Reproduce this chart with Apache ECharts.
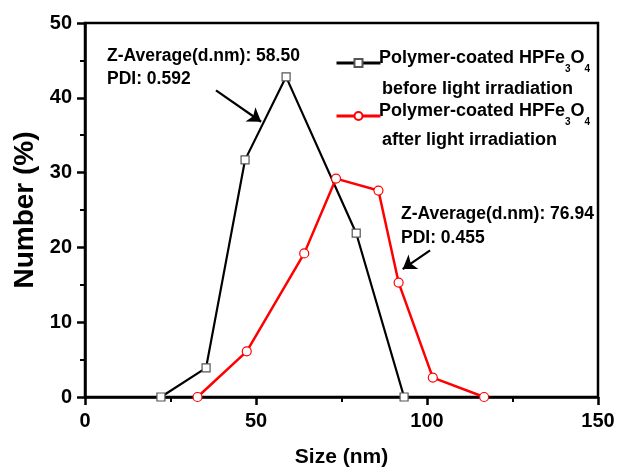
<!DOCTYPE html>
<html>
<head>
<meta charset="utf-8">
<script src="https://cdn.jsdelivr.net/npm/echarts@6/dist/echarts.min.js"></script>
<style>
    html, body { margin: 0; padding: 0; background: #fff; }
    #chart { width: 618px; height: 473px; }
</style>
</head>
<body>
<div id="chart"></div>
<script>
    // size (nm) / number (%)
    const beforeX = [22.2, 35.4, 46.8, 58.8, 79.3, 93.3];
    const beforeY = [0, 3.9, 31.7, 42.8, 21.9, 0];
    const afterX = [32.9, 47.3, 64.1, 73.4, 85.8, 91.7, 101.7, 116.7];
    const afterY = [0, 6.1, 19.2, 29.2, 27.6, 15.3, 2.6, 0];

    const xTicks = [0, 50, 100, 150];
    const yTicks = [0, 10, 20, 30, 40, 50];

    const seriesNames = ['before', 'after'];
    // formula pieces: [text, isSubscript]
    const formula = [['Polymer-coated HPFe', false], ['3', true], ['O', false], ['4', true]];
    const legendLine2 = ['before light irradiation', 'after light irradiation'];
    const noteBefore = ['Z-Average(d.nm): 58.50', 'PDI: 0.592'];
    const noteAfter = ['Z-Average(d.nm): 76.94', 'PDI: 0.455'];
    // arrow tail -> head, in data units
    const arrowBefore = [[38.3, 41.0], [51.5, 36.8]];
    const arrowAfter = [[100.9, 19.6], [92.9, 17.1]];

    const FONT = '"Liberation Sans", Arial, sans-serif';
    const LEG_SIZE = 18;
    const SUB_SIZE = 10;

    function pairs(xs, ys) {
        return xs.map((x, i) => [x, ys[i]]);
    }

    const measureCtx = document.createElement('canvas').getContext('2d');
    function textWidth(str, size) {
        measureCtx.font = 'bold ' + size + 'px ' + FONT;
        return measureCtx.measureText(str).width;
    }

    // legend label with subscripts, drawn as separate text pieces
    function formulaText(x, y) {
        let out = [];
        let cx = x;
        formula.forEach(function (p) {
            let size = p[1] ? SUB_SIZE : LEG_SIZE;
            out.push({
                type: 'text', x: cx, y: p[1] ? y + 11 : y,
                style: {text: p[0], fontSize: size, fontWeight: 'bold', fontFamily: FONT, fill: '#000', textVerticalAlign: 'middle'}
            });
            cx += textWidth(p[0], size);
        });
        return out;
    }

    function plainText(x, y, str, size, lh) {
        return {type: 'text', x: x, y: y, style: {text: str, fontSize: size, fontWeight: 'bold', fontFamily: FONT, fill: '#000', lineHeight: lh}};
    }

    function arrowLine(pts) {
        return {
            silent: true,
            symbol: ['none', 'arrow'],
            symbolSize: 13,
            label: {show: false},
            lineStyle: {color: '#000', width: 2.2, type: 'solid'},
            emphasis: {disabled: true},
            data: [[{coord: pts[0]}, {coord: pts[1]}]]
        };
    }

    const axisText = {color: '#000', fontWeight: 'bold', fontSize: 20, fontFamily: FONT};

    const option = {
        animation: false,
        backgroundColor: '#fff',
        grid: {
            left: 85, right: 20, top: 23, bottom: 73,
            show: true,
            borderColor: '#000',
            borderWidth: 2.5
        },
        legend: {
            orient: 'vertical',
            left: 330,
            top: 53,
            itemWidth: 44,
            itemHeight: 10,
            itemGap: 43,
            data: seriesNames,
            lineStyle: {width: 3},
            formatter: function () { return ''; },
            textStyle: {fontSize: 1}
        },
        xAxis: {
            type: 'value',
            min: xTicks[0],
            max: xTicks[xTicks.length - 1],
            interval: 50,
            name: 'Size (nm)',
            nameLocation: 'middle',
            nameGap: 50,
            nameTextStyle: {color: '#000', fontWeight: 'bold', fontSize: 21, fontFamily: FONT},
            axisLine: {show: true, lineStyle: {color: '#000', width: 2.5}},
            axisTick: {show: true, inside: false, length: 8, lineStyle: {color: '#000', width: 2.5}},
            minorTick: {show: true, splitNumber: 2, length: 5, lineStyle: {color: '#000', width: 2}},
            axisLabel: Object.assign({margin: 14}, axisText),
            splitLine: {show: false}
        },
        yAxis: {
            type: 'value',
            min: yTicks[0],
            max: yTicks[yTicks.length - 1],
            interval: 10,
            name: 'Number (%)',
            nameLocation: 'middle',
            nameGap: 43,
            nameRotate: 90,
            nameTextStyle: {color: '#000', fontWeight: 'bold', fontSize: 28, fontFamily: FONT},
            axisLine: {show: true, lineStyle: {color: '#000', width: 2.5}},
            axisTick: {show: true, inside: false, length: 8, lineStyle: {color: '#000', width: 2.5}},
            minorTick: {show: true, splitNumber: 2, length: 5, lineStyle: {color: '#000', width: 2}},
            axisLabel: Object.assign({margin: 13}, axisText),
            splitLine: {show: false}
        },
        series: [
            {
                name: seriesNames[0],
                type: 'line',
                data: pairs(beforeX, beforeY),
                symbol: 'rect',
                symbolSize: 8,
                color: '#000',
                lineStyle: {color: '#000', width: 2.2},
                itemStyle: {color: '#fff', borderColor: '#555', borderWidth: 1.2},
                markLine: arrowLine(arrowBefore)
            },
            {
                name: seriesNames[1],
                type: 'line',
                data: pairs(afterX, afterY),
                symbol: 'circle',
                symbolSize: 9,
                color: '#ff0000',
                lineStyle: {color: '#ff0000', width: 2.5},
                itemStyle: {color: '#fff', borderColor: '#ff0000', borderWidth: 1.2},
                markLine: arrowLine(arrowAfter)
            }
        ],
        graphic: [].concat(
            formulaText(379, 58),
            formulaText(379, 111),
            [
                plainText(382, 79, legendLine2[0], LEG_SIZE, 20),
                plainText(382, 130, legendLine2[1], LEG_SIZE, 20),
                plainText(107, 45, noteBefore.join('\n'), 17.5, 23),
                plainText(401, 202, noteAfter.join('\n'), 17.5, 24)
            ]
        )
    };

    const myChart = echarts.init(document.getElementById('chart'), null, {renderer: 'canvas'});
    myChart.setOption(option);
</script>
</body>
</html>
